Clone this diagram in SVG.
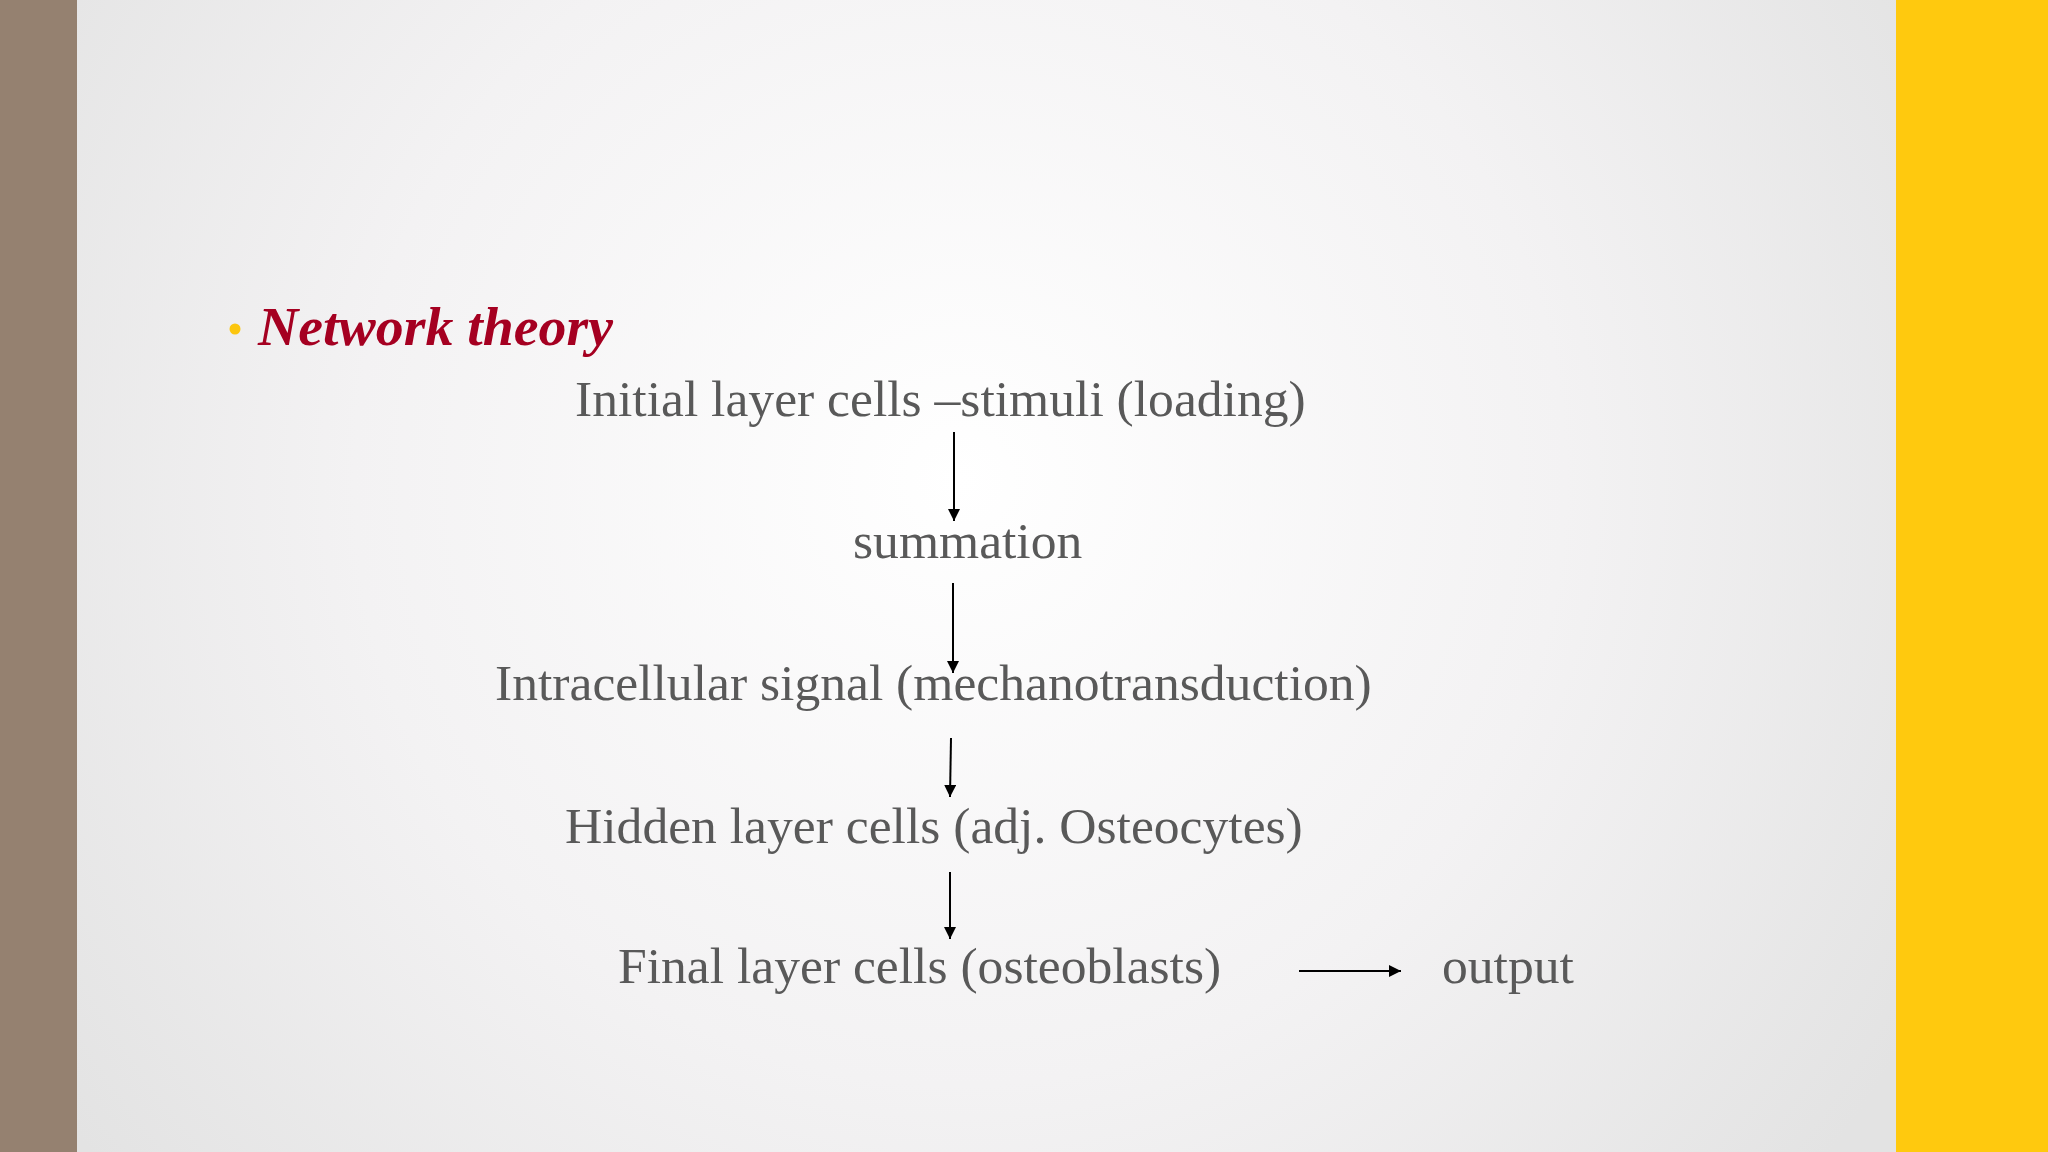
<svg xmlns="http://www.w3.org/2000/svg" width="2048" height="1152" viewBox="0 0 2048 1152">
<defs>
<radialGradient id="bg" cx="960" cy="480" r="1100" gradientUnits="userSpaceOnUse">
<stop offset="0" stop-color="#ffffff"/>
<stop offset="0.55" stop-color="#f3f2f3"/>
<stop offset="1" stop-color="#e3e3e3"/>
</radialGradient>
<marker id="ah" viewBox="0 0 12 12" refX="12" refY="6" markerWidth="12" markerHeight="12" markerUnits="userSpaceOnUse" orient="auto">
<path d="M0,0 L12,6 L0,12 Z" fill="#000"/>
</marker>
</defs>
<style>
.t{font-family:"Liberation Serif","Times New Roman",serif;font-size:51.6px;fill:#595959;}
.h{font-family:"Liberation Serif","Times New Roman",serif;font-size:55.8px;font-weight:bold;font-style:italic;fill:#a50021;}
.c{stroke:#000;stroke-width:2;fill:none;marker-end:url(#ah);}
</style>
<rect x="0" y="0" width="2048" height="1152" fill="url(#bg)"/>
<rect x="0" y="0" width="77" height="1152" fill="#958170"/>
<rect x="1896" y="0" width="152" height="1152" fill="#ffc90e"/>
<g id="title">
<circle cx="235" cy="329" r="5.5" fill="#fcc60e"/>
<text class="h" x="258" y="345">Network theory</text>
</g>
<g id="n1"><text class="t" x="575" y="416">Initial layer cells –stimuli (loading)</text></g>
<g id="n2"><text class="t" x="853" y="558">summation</text></g>
<g id="n3"><text class="t" x="495" y="700">Intracellular signal (mechanotransduction)</text></g>
<g id="n4"><text class="t" x="565" y="843">Hidden layer cells (adj. Osteocytes)</text></g>
<g id="n5"><text class="t" x="618" y="983">Final layer cells (osteoblasts)</text></g>
<g id="n6"><text class="t" x="1442" y="983">output</text></g>
<g id="connectors">
<line class="c" x1="954" y1="432" x2="954" y2="521"/>
<line class="c" x1="953" y1="583" x2="953" y2="673"/>
<line class="c" x1="951" y1="738" x2="950" y2="797"/>
<line class="c" x1="950" y1="872" x2="950" y2="939"/>
<line class="c" x1="1299" y1="971" x2="1401" y2="971"/>
</g>
</svg>
